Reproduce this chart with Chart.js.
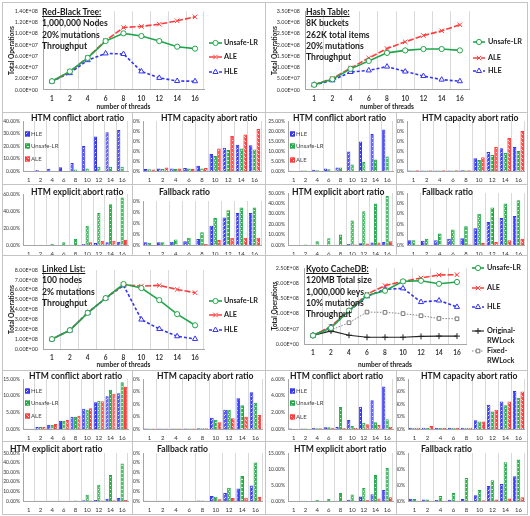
<!DOCTYPE html>
<html>
<head>
<meta charset="utf-8">
<script src="https://cdn.jsdelivr.net/npm/chart.js@4.4.1/dist/chart.umd.min.js"></script>
<style>
  body { margin: 0; background: #fff; }
  #page { position: relative; width: 530px; height: 516px; overflow: hidden; background: #fff; }
  #page canvas { position: absolute; }
  .rule { position: absolute; background: #c4c4c4; }
  .note { position: absolute; font: bold 8.6px Lato, sans-serif; line-height: 11.3px; color: #1a1a1a; white-space: nowrap; }
</style>
</head>
<body>
<div id="page"></div>
<script>
const threads = ["1", "2", "4", "6", "8", "10", "12", "14", "16"];

// throughput, total operations
const rbUnsafe = [1.56e7, 3.3e7, 5.7e7, 8.7e7, 1.007e8, 9.6e7, 8.7e7, 7.7e7, 7.35e7];
const rbAle    = [1.56e7, 3.2e7, 5.8e7, 8.8e7, 1.11e8, 1.13e8, 1.17e8, 1.23e8, 1.3e8];
const rbHle    = [1.56e7, 3.0e7, 5.3e7, 6.5e7, 6.4e7, 3.3e7, 2.15e7, 1.6e7, 1.56e7];

const htUnsafe = [2.3e7, 4.8e7, 9.4e7, 1.29e8, 1.65e8, 1.76e8, 1.82e8, 1.82e8, 1.76e8];
const htAle    = [2.3e7, 5.1e7, 9.7e7, 1.42e8, 1.84e8, 2.14e8, 2.42e8, 2.63e8, 2.9e8];
const htHle    = [2.3e7, 4.3e7, 8.0e7, 8.7e7, 1.04e8, 8.2e7, 6.2e7, 4.6e7, 3.9e7];

const llUnsafe = [1.0e8, 1.9e8, 3.66e8, 5.15e8, 6.58e8, 6.17e8, 4.95e8, 3.53e8, 2.4e8];
const llAle    = [1.0e8, 1.9e8, 3.66e8, 5.15e8, 6.5e8, 6.37e8, 6.44e8, 6.03e8, 5.7e8];
const llHle    = [1.0e8, 1.9e8, 3.66e8, 5.15e8, 6.44e8, 2.98e8, 2.03e8, 1.29e8, 1.02e8];

const kcUnsafe = [2.8e7, 5.3e7, 1.1e8, 1.6e8, 1.75e8, 2.06e8, 2.08e8, 1.98e8, 2.04e8];
const kcAle    = [2.8e7, 5.8e7, 1.1e8, 1.64e8, 1.92e8, 2.06e8, 2.17e8, 2.27e8, 2.28e8];
const kcHle    = [2.8e7, 5.6e7, 1.08e8, 1.57e8, 1.8e8, 1.83e8, 1.38e8, 1.43e8, 1.22e8];
const kcOrig   = [2.8e7, 4.3e7, 2.9e7, 2.2e7, 2.2e7, 2.2e7, 2.5e7, 2.6e7, 2.6e7];
const kcFixed  = [2.8e7, 4.6e7, 7.0e7, 1.05e8, 1.04e8, 1.0e8, 9.3e7, 8.4e7, 8.3e7];

// abort / fallback ratios (%), order HLE, Unsafe-LR, ALE
const rbConfHle = [0.3, 0.9, 1.8, 3.0, 6.5, 20.0, 27.7, 31.0, 32.8];
const rbConfUlr = [0.1, 0.1, 0.2, 0.3, 1.3, 2.1, 3.5, 3.5, 3.5];
const rbConfAle = [0.05, 0.05, 0.05, 0.05, 0.1, 0.1, 0.1, 0.1, 0.1];
const rbCapHle  = [0.4, 0.5, 0.5, 0.6, 1.07, 3.4, 4.67, 5.27, 5.13];
const rbCapUlr  = [0.35, 0.4, 0.4, 0.5, 0.5, 3.0, 4.2, 4.5, 4.3];
const rbCapAle  = [0.3, 0.7, 0.5, 0.4, 0.6, 4.5, 7.0, 7.3, 8.4];
const rbExpHle  = [0.1, 0.1, 0.1, 0.1, 0.2, 1.2, 2.4, 3.1, 3.9];
const rbExpUlr  = [0.1, 0.4, 1.6, 3.1, 7.5, 22.7, 37.6, 47.8, 56.0];
const rbExpAle  = [0.1, 0.1, 0.1, 0.1, 0.3, 3.1, 5.1, 5.1, 6.3];
const rbFbHle   = [0.5, 0.5, 0.6, 0.7, 1.1, 3.5, 5.0, 5.8, 5.8];
const rbFbUlr   = [0.4, 0.5, 1.0, 1.3, 2.3, 4.9, 6.3, 6.8, 6.8];
const rbFbAle   = [0.02, 0.02, 0.02, 0.05, 0.2, 0.9, 1.3, 1.3, 1.3];

const htConfHle = [0.1, 0.3, 0.6, 1.3, 1.8, 9.7, 14.7, 18.5, 20.8];
const htConfUlr = [0.1, 0.2, 0.4, 0.9, 1.7, 3.3, 4.5, 5.7, 7.2];
const htConfAle = [0.05, 0.05, 0.05, 0.05, 0.05, 0.05, 0.05, 0.05, 0.05];
const htCapHle  = [0.05, 0.05, 0.05, 0.05, 0.08, 1.27, 1.9, 2.27, 2.4];
const htCapUlr  = [0.05, 0.05, 0.05, 0.05, 0.08, 1.1, 1.6, 1.8, 2.0];
const htCapAle  = [0.08, 0.08, 0.08, 0.08, 0.08, 1.37, 2.4, 3.3, 4.0];
const htExpHle  = [0.1, 0.1, 0.1, 0.1, 0.2, 1.0, 1.8, 2.5, 3.0];
const htExpUlr  = [0.1, 0.5, 3.5, 6.5, 10.0, 23.5, 32.5, 40.0, 47.0];
const htExpAle  = [0.1, 0.1, 0.1, 0.1, 0.1, 0.5, 1.5, 2.5, 3.5];
const htFbHle   = [0.45, 0.4, 0.45, 0.6, 0.65, 1.6, 2.2, 2.6, 2.8];
const htFbUlr   = [0.45, 0.6, 1.1, 1.5, 1.8, 3.0, 3.6, 4.0, 4.3];
const htFbAle   = [0.02, 0.02, 0.02, 0.02, 0.05, 0.2, 0.3, 0.45, 0.6];

const llConfHle = [0.05, 0.6, 1.3, 2.5, 3.7, 6.1, 8.0, 9.8, 10.7];
const llConfUlr = [0.05, 0.6, 1.3, 2.5, 3.7, 5.8, 8.5, 11.8, 14.0];
const llConfAle = [0.05, 0.6, 1.5, 2.7, 4.0, 6.2, 8.3, 10.6, 12.7];
const llCapHle  = [0.02, 0.02, 0.02, 0.02, 0.03, 0.45, 0.77, 1.23, 1.47];
const llCapUlr  = [0.02, 0.02, 0.02, 0.02, 0.03, 0.37, 0.77, 0.95, 1.05];
const llCapAle  = [0.02, 0.02, 0.02, 0.02, 0.03, 0.27, 0.43, 0.49, 0.56];
const llExpHle  = [0.1, 0.3, 0.3, 0.3, 0.3, 0.7, 1.0, 2.4, 3.1];
const llExpUlr  = [0.1, 0.3, 0.3, 0.3, 0.4, 6.5, 17.0, 27.0, 39.0];
const llExpAle  = [0.1, 0.3, 0.3, 0.3, 0.3, 0.4, 0.6, 0.8, 1.0];
const llFbHle   = [0.03, 0.03, 0.03, 0.03, 0.05, 0.52, 0.83, 1.3, 1.62];
const llFbUlr   = [0.03, 0.03, 0.03, 0.03, 0.05, 0.45, 1.38, 2.6, 4.0];
const llFbAle   = [0.03, 0.03, 0.03, 0.03, 0.03, 0.17, 0.3, 0.35, 0.45];

const kcConfHle = [0.05, 0.05, 0.12, 0.2, 0.25, 1.08, 2.68, 3.44, 5.1];
const kcConfUlr = [0.03, 0.05, 0.1, 0.2, 2.64, 0.36, 0.76, 0.8, 1.16];
const kcConfAle = [0.03, 0.03, 0.1, 0.15, 0.12, 0.16, 0.56, 0.48, 0.28];
const kcCapHle  = [0.02, 0.02, 0.02, 0.02, 0.02, 0.14, 0.39, 0.44, 0.61];
const kcCapUlr  = [0.02, 0.02, 0.02, 0.02, 0.02, 0.12, 0.28, 0.38, 0.5];
const kcCapAle  = [0.02, 0.05, 0.02, 0.02, 0.02, 0.12, 0.31, 0.44, 0.6];
const kcExpHle  = [0.02, 0.05, 0.05, 0.05, 0.1, 0.4, 1.4, 2.1, 3.4];
const kcExpUlr  = [0.02, 0.1, 0.3, 0.7, 2.5, 2.0, 4.1, 8.1, 10.3];
const kcExpAle  = [0.02, 0.02, 0.05, 0.05, 0.05, 0.1, 0.3, 0.8, 1.2];
const kcFbHle   = [0.07, 0.05, 0.03, 0.04, 0.06, 0.18, 0.47, 0.53, 0.77];
const kcFbUlr   = [0.06, 0.05, 0.16, 0.25, 0.72, 0.34, 0.65, 1.21, 1.3];
const kcFbAle   = [0.01, 0.01, 0.01, 0.01, 0.01, 0.02, 0.05, 0.08, 0.12];

const page = document.getElementById("page");
Chart.defaults.font.family = "Lato, 'DejaVu Sans', sans-serif";
Chart.defaults.color = "#333";

const C_ULR = "#1fa64a", C_ALE = "#ff3c3c", C_HLE = "#3434f0";

// pattern fills like the excel bars
function tile(base, dots) {
  const t = document.createElement("canvas");
  t.width = 4; t.height = 4;
  const g = t.getContext("2d");
  g.fillStyle = base; g.fillRect(0, 0, 4, 4);
  g.fillStyle = "rgba(255,255,255,0.85)";
  dots.forEach(([x, y]) => g.fillRect(x, y, 1, 1));
  return g.createPattern(t, "repeat");
}
const fillHle = tile("#3c3cff", [[3, 0], [2, 1], [0, 3]]);
const fillUlr = tile("#2eae47", [[0, 1], [1, 1], [2, 3], [3, 3]]);
const fillAle = tile("#ff4040", [[0, 0], [1, 1], [3, 3]]);

function sci(v) {
  if (v < 1) return "0.00E+00";
  const e = Math.floor(Math.log10(v) + 1e-9);
  return (v / Math.pow(10, e)).toFixed(2) + "E+" + String(e).padStart(2, "0");
}

function addCanvas(x, y, w, h) {
  const c = document.createElement("canvas");
  c.width = w; c.height = h;
  c.style.left = x + "px"; c.style.top = y + "px";
  c.style.width = w + "px"; c.style.height = h + "px";
  page.appendChild(c);
  return c;
}

function rule(x, y, w, h) {
  const d = document.createElement("div");
  d.className = "rule";
  Object.assign(d.style, { left: x + "px", top: y + "px", width: w + "px", height: h + "px" });
  page.appendChild(d);
}

function note(x, y, lines) {
  const d = document.createElement("div");
  d.className = "note";
  d.style.left = x + "px"; d.style.top = y + "px";
  d.innerHTML = "<u>" + lines[0] + "</u><br>" + lines.slice(1).join("<br>");
  page.appendChild(d);
}

// legend on the right of the throughput charts
const sideLegend = {
  id: "sideLegend",
  afterDraw(chart, args, o) {
    const ctx = chart.ctx;
    ctx.save();
    ctx.font = "bold 7.3px Lato";
    ctx.textBaseline = "middle";
    o.rows.forEach(row => {
      const d = chart.data.datasets[row.i];
      ctx.strokeStyle = d.borderColor;
      ctx.lineWidth = d.borderWidth;
      ctx.setLineDash(d.borderDash || []);
      ctx.beginPath(); ctx.moveTo(o.x0, row.y); ctx.lineTo(o.x1, row.y); ctx.stroke();
      ctx.setLineDash([]);
      ctx.lineWidth = 1;
      ctx.fillStyle = "#fff";
      Chart.helpers.drawPoint(ctx, { pointStyle: d.pointStyle, radius: d.pointRadius, borderWidth: 1 }, (o.x0 + o.x1) / 2, row.y);
      ctx.fillStyle = "#222";
      d.label.split("\n").forEach((s, k) => ctx.fillText(s, o.tx, row.y + k * 10));
    });
    ctx.restore();
  }
};

function series(label, data, color, extra) {
  return Object.assign({
    label, data, borderColor: color, borderWidth: 1.6, tension: 0,
    pointStyle: "circle", pointRadius: 2.6, pointBorderWidth: 1,
    pointBackgroundColor: "#fff", pointBorderColor: color, backgroundColor: "#fff"
  }, extra);
}

function lineChart(box, plot, yMax, yStep, sets, legend) {
  const [bx, by, bw, bh] = box;
  const [l, t, r, b] = plot;
  const cv = addCanvas(bx, by, bw, bh);
  new Chart(cv, {
    type: "line",
    data: { labels: threads, datasets: sets },
    options: {
      responsive: false, animation: false, devicePixelRatio: 1,
      layout: { padding: { left: 0, top: t - by, right: bx + bw - r, bottom: 0 } },
      plugins: {
        legend: { display: false }, tooltip: { enabled: false },
        sideLegend: {
          x0: legend.x0 - bx, x1: legend.x1 - bx, tx: legend.tx - bx,
          rows: legend.ys.map((y, i) => ({ i, y: y - by }))
        }
      },
      scales: {
        x: {
          offset: true,
          grid: { offset: true, color: "#d9d9d9", drawTicks: false },
          border: { color: "#a6a6a6" },
          ticks: { padding: 5, font: { size: 6.5, weight: "bold" }, color: "#333", autoSkip: false, maxRotation: 0 },
          title: { display: true, text: "number of threads", font: { size: 6.6, weight: "bold" }, color: "#222", padding: { top: 0, bottom: 1.5 } },
          afterFit: s => { s.height = by + bh - b; }
        },
        y: {
          min: 0, max: yMax,
          grid: { display: false, drawTicks: false },
          border: { color: "#a6a6a6" },
          ticks: { stepSize: yStep, padding: 5, font: { size: 5.4 }, color: "#333", autoSkip: false, callback: v => sci(v) },
          title: { display: true, text: "Total Operations", font: { size: 6.6, weight: "bold" }, color: "#222", padding: { top: 5, bottom: 0 } },
          afterFit: s => { s.width = l - bx; }
        }
      }
    },
    plugins: [sideLegend]
  });
}

// title and inner legend for the ratio charts
const panelText = {
  id: "panelText",
  afterDraw(chart, args, o) {
    const ctx = chart.ctx;
    ctx.save();
    ctx.textBaseline = "middle";
    ctx.fillStyle = "#1a1a1a";
    ctx.font = "bold 8.6px Lato";
    ctx.fillText(o.title, o.tx, o.ty);
    if (o.keys) {
      ctx.font = "6px Lato";
      o.keys.forEach((y, i) => {
        const d = chart.data.datasets[i];
        ctx.fillStyle = d.backgroundColor;
        ctx.fillRect(o.kx, y - 2.5, 5, 5);
        ctx.strokeStyle = d.borderColor; ctx.lineWidth = 1;
        ctx.strokeRect(o.kx + 0.5, y - 2, 4, 4);
        ctx.fillStyle = "#444";
        ctx.fillText(d.label, o.kx + 6, y + 0.5);
      });
    }
    ctx.restore();
  }
};

function barChart(spec) {
  const [bx, by, bw, bh] = spec.box;
  const [l, t, r, b] = spec.plot;
  const cv = addCanvas(bx, by, bw, bh);
  const mk = (label, data, fill, color) => ({ label, data, backgroundColor: fill, borderColor: color, borderWidth: 1 });
  new Chart(cv, {
    type: "bar",
    data: {
      labels: threads,
      datasets: [
        mk("HLE", spec.data[0], fillHle, C_HLE),
        mk("Unsafe-LR", spec.data[1], fillUlr, C_ULR),
        mk("ALE", spec.data[2], fillAle, C_ALE)
      ]
    },
    options: {
      responsive: false, animation: false, devicePixelRatio: 1,
      categoryPercentage: 0.88, barPercentage: 0.94,
      layout: { padding: { left: 0, top: t - by, right: bx + bw - r, bottom: 0 } },
      plugins: {
        legend: { display: false }, tooltip: { enabled: false },
        panelText: {
          title: spec.title, tx: spec.tx - bx, ty: spec.ty - by,
          kx: 25 + (bx >= 265 ? 265 : 0) - bx,
          keys: spec.keys ? spec.keys.map(y => y - by) : null
        }
      },
      scales: {
        x: {
          grid: { offset: true, color: "#d9d9d9", drawTicks: false },
          border: { color: "#a6a6a6" },
          ticks: { padding: 5, font: { size: 6 }, color: "#333", autoSkip: false, maxRotation: 0 },
          afterFit: s => { s.height = by + bh - b; }
        },
        y: {
          min: 0, max: spec.max,
          grid: { display: false, drawTicks: false },
          border: { color: "#a6a6a6" },
          ticks: { stepSize: spec.step, padding: 3, font: { size: 5 }, color: "#333", autoSkip: false, callback: v => v.toFixed(2) + "%" },
          afterFit: s => { s.width = l - bx; }
        }
      }
    },
    plugins: [panelText]
  });
}

// frame lines
rule(2, 2, 526, 1); rule(2, 514, 526, 1); rule(2, 2, 1, 513); rule(527, 2, 1, 513);
rule(265, 2, 1, 513);
[112, 184, 255, 370, 441].forEach(y => rule(2, y, 526, 1));
rule(132, 112, 1, 143); rule(396, 112, 1, 143);
rule(132, 370, 1, 145); rule(396, 370, 1, 145);

// throughput charts
lineChart([3, 3, 262, 109], [43, 9, 204, 90], 1.4e8, 2e7, [
  series("Unsafe-LR", rbUnsafe, C_ULR),
  series("ALE", rbAle, C_ALE, { borderDash: [6, 2], pointStyle: "crossRot", pointRadius: 3.2 }),
  series("HLE", rbHle, C_HLE, { borderDash: [3, 2], pointStyle: "triangle", pointRadius: 3 })
], { x0: 209, x1: 222, tx: 224, ys: [43, 57, 72] });
note(42, 7, ["Red-Black Tree:", "1,000,000 Nodes", "20% mutations", "Throughput"]);

lineChart([266, 3, 261, 109], [305, 9, 469, 90], 3.5e8, 5e7, [
  series("Unsafe-LR", htUnsafe, C_ULR),
  series("ALE", htAle, C_ALE, { borderDash: [6, 2], pointStyle: "crossRot", pointRadius: 3.2 }),
  series("HLE", htHle, C_HLE, { borderDash: [3, 2], pointStyle: "triangle", pointRadius: 3 })
], { x0: 473, x1: 485, tx: 488, ys: [42, 58, 71] });
note(306, 7, ["Hash Table:", "8K buckets", "262K total items", "20% mutations", "Throughput"]);

lineChart([3, 256, 262, 114], [43, 270, 204, 349], 8e8, 1e8, [
  series("Unsafe-LR", llUnsafe, C_ULR),
  series("ALE", llAle, C_ALE, { borderDash: [6, 2], pointStyle: "crossRot", pointRadius: 3.2 }),
  series("HLE", llHle, C_HLE, { borderDash: [3, 2], pointStyle: "triangle", pointRadius: 3 })
], { x0: 209, x1: 222, tx: 224, ys: [301, 315, 330] });
note(42, 264, ["Linked List:", "100 nodes", "2% mutations", "Throughput"]);

lineChart([266, 256, 261, 114], [304, 268, 466, 344], 2.5e8, 5e7, [
  series("Unsafe-LR", kcUnsafe, C_ULR),
  series("ALE", kcAle, C_ALE, { borderDash: [6, 2], pointStyle: "crossRot", pointRadius: 3.2 }),
  series("HLE", kcHle, C_HLE, { borderDash: [3, 2], pointStyle: "triangle", pointRadius: 3 }),
  series("Original-\nRWLock", kcOrig, "#222", { borderWidth: 1.1, pointStyle: "cross", pointRadius: 3 }),
  series("Fixed-\nRWLock", kcFixed, "#777", { borderWidth: 0.9, borderDash: [1.5, 1.5], pointStyle: "rect", pointRadius: 2.6 })
], { x0: 472, x1: 484, tx: 487, ys: [268, 288, 307, 331, 351] });
note(306, 264, ["Kyoto CacheDB:", "120MB Total size", "1,000,000 keys", "10% mutations", "Throughput"]);

// ratio charts
const colA = [3, 129], colB = [133, 132], colC = [266, 130], colD = [397, 130];
const g1r1 = [113, 71], g1r2 = [185, 70], g2r1 = [371, 70], g2r2 = [442, 72];
const box = (c, r) => [c[0], r[0], c[1], r[1]];

[
  { title: "HTM conflict abort ratio", data: [rbConfHle, rbConfUlr, rbConfAle], max: 40, step: 10, box: box(colA, g1r1), plot: [23, 121, 128, 171], tx: 31, ty: 118, keys: [134, 146, 159] },
  { title: "HTM capacity abort ratio", data: [rbCapHle, rbCapUlr, rbCapAle], max: 10, step: 2, box: box(colB, g1r1), plot: [143, 121, 261, 171], tx: 161, ty: 118 },
  { title: "HTM explicit abort ratio", data: [rbExpHle, rbExpUlr, rbExpAle], max: 60, step: 20, box: box(colA, g1r2), plot: [23, 194, 128, 245], tx: 31, ty: 192 },
  { title: "Fallback ratio", data: [rbFbHle, rbFbUlr, rbFbAle], max: 8, step: 2, box: box(colB, g1r2), plot: [143, 201, 261, 245], tx: 159, ty: 192 },

  { title: "HTM conflict abort ratio", data: [htConfHle, htConfUlr, htConfAle], max: 25, step: 5, box: box(colC, g1r1), plot: [288, 121, 393, 171], tx: 293, ty: 118, keys: [134, 146, 160] },
  { title: "HTM capacity abort ratio", data: [htCapHle, htCapUlr, htCapAle], max: 5, step: 1, box: box(colD, g1r1), plot: [407, 121, 525, 171], tx: 422, ty: 118 },
  { title: "HTM explicit abort ratio", data: [htExpHle, htExpUlr, htExpAle], max: 50, step: 10, box: box(colC, g1r2), plot: [288, 193, 393, 245], tx: 292, ty: 192 },
  { title: "Fallback ratio", data: [htFbHle, htFbUlr, htFbAle], max: 5, step: 1, box: box(colD, g1r2), plot: [407, 193, 525, 245], tx: 422, ty: 192 },

  { title: "HTM conflict abort ratio", data: [llConfHle, llConfUlr, llConfAle], max: 15, step: 5, box: box(colA, g2r1), plot: [23, 379, 128, 429], tx: 29, ty: 376, keys: [391, 403, 416] },
  { title: "HTM capacity abort ratio", data: [llCapHle, llCapUlr, llCapAle], max: 2, step: 0.5, box: box(colB, g2r1), plot: [143, 379, 262, 429], tx: 157, ty: 376 },
  { title: "HTM explicit abort ratio", data: [llExpHle, llExpUlr, llExpAle], max: 50, step: 10, box: box(colA, g2r2), plot: [23, 453, 128, 501], tx: 10, ty: 449 },
  { title: "Fallback ratio", data: [llFbHle, llFbUlr, llFbAle], max: 5, step: 1, box: box(colB, g2r2), plot: [143, 453, 262, 501], tx: 157, ty: 449 },

  { title: "HTM conflict abort ratio", data: [kcConfHle, kcConfUlr, kcConfAle], max: 6, step: 2, box: box(colC, g2r1), plot: [288, 379, 393, 429], tx: 290, ty: 376, keys: [391, 403, 417] },
  { title: "HTM capacity abort ratio", data: [kcCapHle, kcCapUlr, kcCapAle], max: 0.8, step: 0.2, box: box(colD, g2r1), plot: [408, 379, 525, 429], tx: 421, ty: 376 },
  { title: "HTM explicit abort ratio", data: [kcExpHle, kcExpUlr, kcExpAle], max: 15, step: 5, box: box(colC, g2r2), plot: [288, 453, 393, 501], tx: 294, ty: 449 },
  { title: "Fallback ratio", data: [kcFbHle, kcFbUlr, kcFbAle], max: 1.5, step: 0.5, box: box(colD, g2r2), plot: [408, 453, 525, 501], tx: 421, ty: 449 }
].forEach(barChart);
</script>
</body>
</html>
